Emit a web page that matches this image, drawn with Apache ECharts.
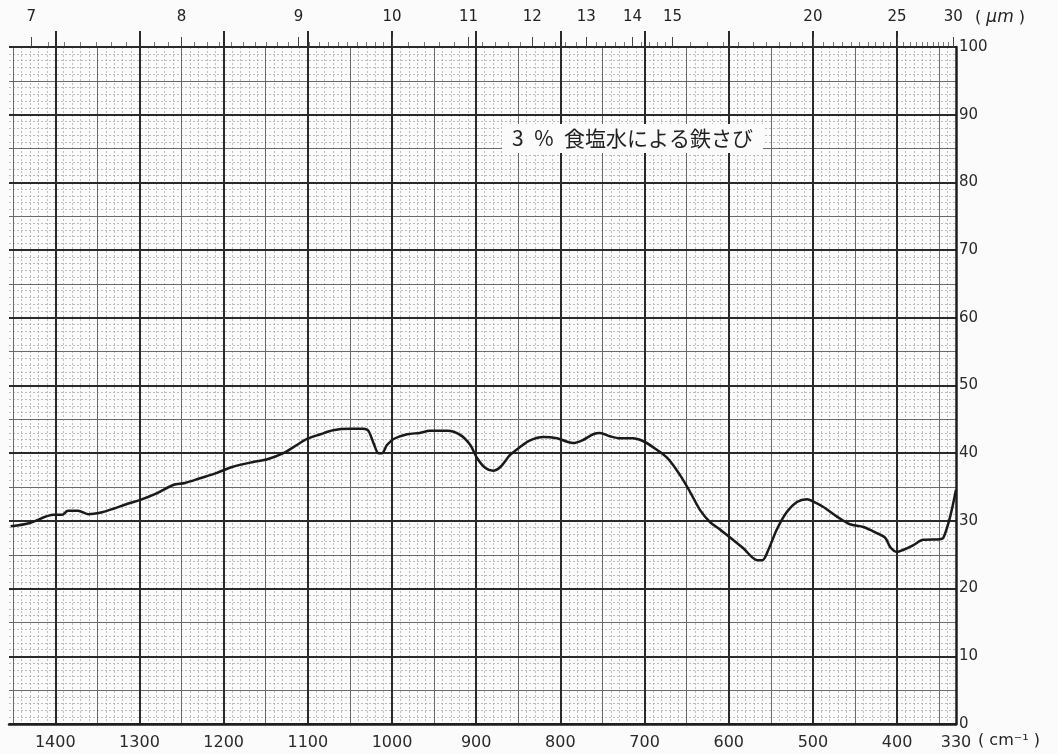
<!DOCTYPE html>
<html>
<head>
<meta charset="utf-8">
<script src="https://cdn.jsdelivr.net/npm/echarts@6/dist/echarts.min.js"></script>
<style>
html,body{margin:0;padding:0;background:#fbfbfb;}
#c{width:1058px;height:754px;}
</style>
</head>
<body>
<div id="c"></div>
<script>
// ---- data ----
const wavenumbers = [1453,1430,1402,1392,1385,1373,1361,1347,1331,1315,1299,1279,1260,1246,1228,1208,1189,1165,1148,1129,1117,1101,1085,1070,1050,1034,1028,1022,1016,1012,1006,998,982,967,955,934,919,907,899,889,880,871,860,848,836,820,804,792,785,774,761,753,741,729,714,702,690,673,658,646,634,622,610,598,583,566,560,553,543,531,519,507,500,488,471,456,440,424,414,408,400,393,381,369,349,345,337,330];
const transmittance = [29.2,29.7,30.9,30.9,31.5,31.5,31.0,31.2,31.8,32.5,33.1,34.1,35.3,35.6,36.3,37.1,38.0,38.7,39.1,40.0,40.9,42.1,42.8,43.4,43.6,43.6,43.3,41.5,40.0,40.0,41.2,42.1,42.8,43.0,43.3,43.3,42.7,41.2,39.3,37.8,37.4,38.0,39.7,40.9,41.9,42.4,42.2,41.7,41.5,41.9,42.8,43.0,42.5,42.2,42.2,41.8,40.9,39.3,36.8,34.3,31.6,29.8,28.7,27.5,26.0,24.2,24.2,25.7,28.7,31.3,32.8,33.2,32.9,32.1,30.6,29.5,29.1,28.2,27.5,26.1,25.4,25.7,26.4,27.2,27.3,27.5,30.6,34.6];
const bottomTickLabels = [1400,1300,1200,1100,1000,900,800,700,600,500,400,330];
const micronLabels = [7,8,9,10,11,12,13,14,15,20,25,30];
const yTickLabels = [0,10,20,30,40,50,60,70,80,90,100];
const titleText = '3\u2002%\u2002食塩水による鉄さび';

// ---- axis helpers (grid-paper decoration) ----
const XMIN = 330, XMAX = 1455;
const majorX = [], mediumX = [], fineX = [];
for (let v = 400; v <= 1400; v += 100) majorX.push(v);
for (let v = 350; v <= 1450; v += 100) mediumX.push(v);
for (let v = 340; v <= 1450; v += 10) if (v % 50 !== 0) fineX.push(v);
const micronMajor = micronLabels.map(m => 10000 / m);
const micronMinor = [];
for (let m = 7; m < 10; m += 0.1) micronMinor.push(10000 / m);
for (let m = 10; m < 15; m += 0.2) micronMinor.push(10000 / m);
for (let m = 15; m <= 30; m += 0.5) micronMinor.push(10000 / m);

const FONT = 'DejaVu Sans';
const data = wavenumbers.map((w, i) => [w, transmittance[i]]);

function hiddenX(pos, extra) {
  return Object.assign({
    type: 'value', position: pos, min: XMIN, max: XMAX, inverse: true,
    axisLine: {show: false, onZero: false}, axisLabel: {show: false},
    axisTick: {show: false}, splitLine: {show: false}
  }, extra);
}

const chart = echarts.init(document.getElementById('c'), null, {renderer: 'canvas'});
chart.setOption({
  backgroundColor: '#fbfbfb',
  animation: false,
  title: {
    text: titleText, left: 502, top: 124,
    backgroundColor: '#fbfbfb', padding: [4, 10],
    textStyle: {fontFamily: 'Noto Sans CJK JP', fontSize: 21, fontWeight: 'normal', color: '#222'}
  },
  grid: {left: 9, right: 102, top: 47, bottom: 30, containLabel: false},
  xAxis: [
    {
      type: 'value', position: 'bottom', min: XMIN, max: XMAX, inverse: true, z: 3,
      axisLine: {show: true, onZero: false, lineStyle: {color: '#1e1e1e', width: 2.5}},
      axisTick: {show: false, customValues: majorX},
      axisLabel: {customValues: bottomTickLabels, margin: 11, fontFamily: FONT, fontSize: 16, color: '#2a2a2a',
        formatter: v => String(v)},
      splitLine: {show: true, lineStyle: {color: '#2a2a2a', width: 2}}
    },
    hiddenX('bottom', {z: 2, axisTick: {show: false, customValues: mediumX},
      splitLine: {show: true, lineStyle: {color: '#6a6a6a', width: 1}}}),
    hiddenX('bottom', {z: 1, axisTick: {show: false, customValues: fineX},
      splitLine: {show: true, lineStyle: {color: '#bdbdbd', width: 1, type: [2, 2]}}}),
    hiddenX('top', {z: 3, axisTick: {show: true, inside: false, length: 16, customValues: majorX,
      lineStyle: {color: '#2a2a2a', width: 2}}}),
    hiddenX('top', {z: 3, axisTick: {show: true, inside: false, length: 10, customValues: micronMajor,
      lineStyle: {color: '#444', width: 1}},
      axisLabel: {show: true, customValues: micronMajor, margin: 22, fontFamily: FONT, fontSize: 15, color: '#222',
        formatter: v => String(Math.round(10000 / v))}}),
    hiddenX('top', {z: 2, axisTick: {show: true, inside: false, length: 5, customValues: micronMinor,
      lineStyle: {color: '#777', width: 1}}})
  ],
  yAxis: [
    {
      type: 'value', position: 'right', min: 0, max: 100, interval: 10, z: 3,
      axisLine: {show: true, onZero: false, lineStyle: {color: '#1e1e1e', width: 2.5}},
      axisTick: {show: false},
      axisLabel: {margin: 3, fontFamily: FONT, fontSize: 15, color: '#2a2a2a',
        formatter: v => yTickLabels.indexOf(v) >= 0 ? String(v) : ''},
      splitLine: {show: true, lineStyle: {color: '#2a2a2a', width: 2}}
    },
    {
      type: 'value', position: 'right', min: 0, max: 100, interval: 5, z: 2,
      axisLine: {show: false, onZero: false}, axisTick: {show: false}, axisLabel: {show: false},
      splitLine: {show: true, lineStyle: {color: '#6a6a6a', width: 1}}
    },
    {
      type: 'value', position: 'right', min: 0, max: 100, interval: 1, z: 1,
      axisLine: {show: false, onZero: false}, axisTick: {show: false}, axisLabel: {show: false},
      splitLine: {show: true, lineStyle: {color: '#bdbdbd', width: 1, type: [2, 2]}}
    }
  ],
  graphic: [
    {type: 'text', left: 975, top: 9, z: 10, style: {
      text: '( {i|μm} )', fontFamily: FONT, fontSize: 16, fill: '#222',
      rich: {i: {fontFamily: FONT, fontStyle: 'italic', fontSize: 17, fill: '#222'}}}},
    {type: 'text', left: 978, top: 733, z: 10, style: {
      text: '( cm⁻¹ )', fontFamily: FONT, fontSize: 16, fill: '#222'}}
  ],
  series: [{
    type: 'line', xAxisIndex: 0, yAxisIndex: 0, data: data, z: 5,
    showSymbol: false, symbol: 'none', smooth: 0.3,
    lineStyle: {color: '#1a1a1a', width: 2.5}
  }]
});
</script>
</body>
</html>
